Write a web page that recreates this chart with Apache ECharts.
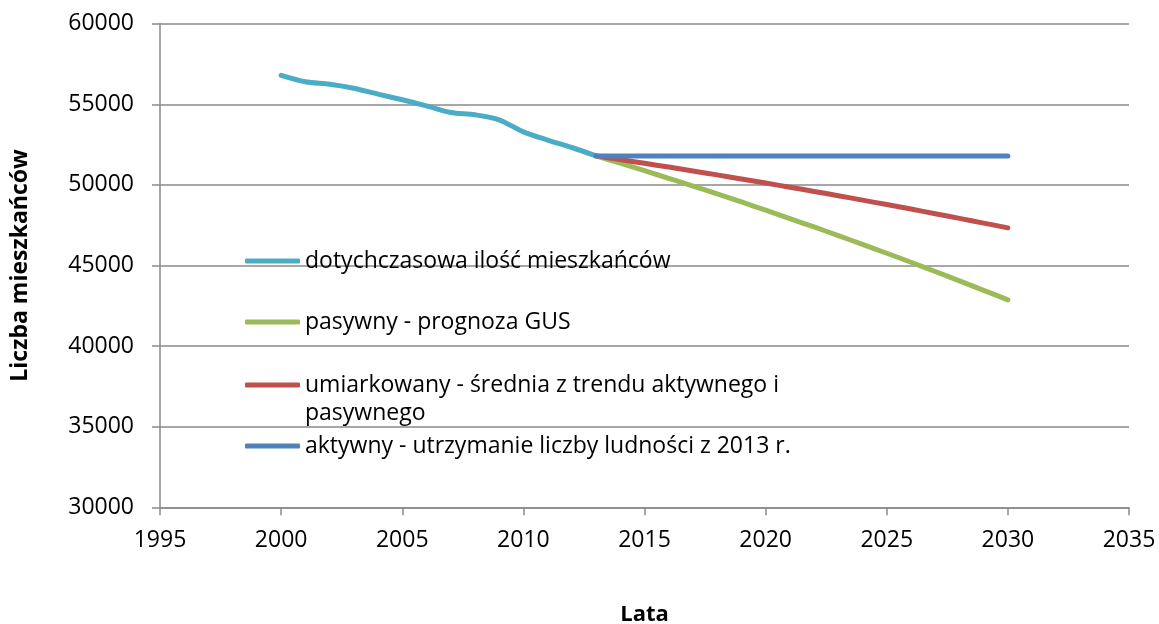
<!DOCTYPE html>
<html>
<head>
<meta charset="utf-8">
<script src="https://cdn.jsdelivr.net/npm/echarts@6/dist/echarts.min.js"></script>
<style>
html,body{margin:0;padding:0;background:#fff;}
#chart{width:1159px;height:624px;}
</style>
</head>
<body>
<div id="chart"></div>
<script>
// ---- data ----
const histYears = [2000,2001,2002,2003,2004,2005,2006,2007,2008,2009,2010,2011,2012,2013];
const histValues = [56800,56400,56250,56000,55630,55280,54900,54490,54350,54040,53290,52780,52320,51800];

const forecastYears = [2013,2014,2015,2016,2017,2018,2019,2020,2021,2022,2023,2024,2025,2026,2027,2028,2029,2030];
const passiveValues = [51800,51345,50880,50410,49930,49440,48940,48430,47910,47390,46855,46310,45760,45200,44630,44050,43460,42870];
const moderateValues = [51800,51570,51340,51105,50865,50620,50370,50115,49855,49595,49330,49055,48780,48500,48215,47925,47630,47335];
const activeYears = [2013,2030];
const activeValues = [51800,51800];

const seriesNames = [
  'dotychczasowa ilość mieszkańców',
  'pasywny - prognoza GUS',
  'umiarkowany - średnia z trendu aktywnego i pasywnego',
  'aktywny - utrzymanie liczby ludności z 2013 r.'
];
const seriesColors = ['#4BACC6','#9BBB59','#C0504D','#4F81BD'];
const xTitle = 'Lata';
const yTitle = 'Liczba mieszkańców';

function pairs(xs, ys){ return xs.map((x,i)=>[x, ys[i]]); }

const FONT = 'Open Sans';
const chart = echarts.init(document.getElementById('chart'));

function mkLegend(idx, top){
  return {
    data: [seriesNames[idx]],
    left: 245,
    top: top,
    padding: 0,
    icon: 'roundRect',
    itemWidth: 55,
    itemHeight: 5,
    selectedMode: false,
    textStyle: {fontFamily: FONT, fontSize: 23, color: '#000', lineHeight: 28}
  };
}

const legends = [
  mkLegend(0, 247),
  mkLegend(1, 308),
  Object.assign(mkLegend(2, 343), {
    formatter: function(n){ return '\numiarkowany - średnia z trendu aktywnego i\npasywnego'; }
  }),
  mkLegend(3, 432)
];

function lineSeries(i, data){
  return {
    name: seriesNames[i],
    type: 'line',
    data: data,
    smooth: 0.3,
    symbol: 'none',
    color: seriesColors[i],
    lineStyle: {width: 5, color: seriesColors[i], cap: 'round', join: 'round'}
  };
}

chart.setOption({
  animation: false,
  backgroundColor: '#fff',
  textStyle: {fontFamily: FONT},
  legend: legends,
  grid: {left: 160, right: 30, top: 23.7, bottom: 116.7, containLabel: false, outerBoundsMode: 'none'},
  xAxis: {
    type: 'value',
    min: 1995, max: 2035, interval: 5,
    name: xTitle,
    nameLocation: 'middle',
    nameGap: 96,
    nameTextStyle: {fontFamily: FONT, fontSize: 22, fontWeight: 'bold', color: '#000'},
    axisLine: {show: true, lineStyle: {color: '#8a8a8a', width: 1.5}},
    axisTick: {show: true, length: 8, lineStyle: {color: '#8a8a8a', width: 1.5}},
    axisLabel: {fontFamily: FONT, fontSize: 23, color: '#000', margin: 22, formatter: v => String(v)},
    splitLine: {show: false}
  },
  yAxis: {
    type: 'value',
    min: 30000, max: 60000, interval: 5000,
    name: yTitle,
    nameLocation: 'middle',
    nameGap: 128,
    nameRotate: 90,
    nameTextStyle: {fontFamily: FONT, fontSize: 23, fontWeight: 'bold', color: '#000'},
    axisLine: {show: true, lineStyle: {color: '#8a8a8a', width: 1.5}},
    axisTick: {show: true, length: 8, lineStyle: {color: '#8a8a8a', width: 1.5}},
    axisLabel: {fontFamily: FONT, fontSize: 23, color: '#000', margin: 26, formatter: v => String(v)},
    splitLine: {show: true, lineStyle: {color: '#8a8a8a', width: 1.5}}
  },
  series: [
    lineSeries(0, pairs(histYears, histValues)),
    lineSeries(1, pairs(forecastYears, passiveValues)),
    lineSeries(2, pairs(forecastYears, moderateValues)),
    lineSeries(3, pairs(activeYears, activeValues))
  ]
});
</script>
</body>
</html>
